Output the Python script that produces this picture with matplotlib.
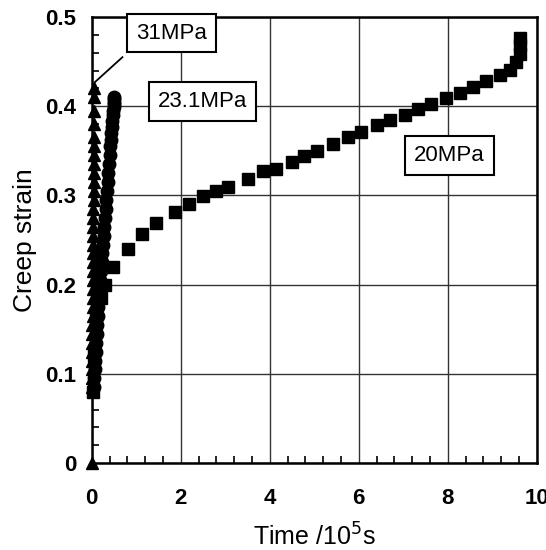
import matplotlib
matplotlib.use("Agg")
import matplotlib.pyplot as plt
from matplotlib.ticker import MultipleLocator

plt.rcParams['font.family'] = ['Liberation Sans', 'DejaVu Sans']

# 31 MPa (triangles)
t31 = [0.0, 0.0, 0.005, 0.005, 0.01, 0.01, 0.012, 0.015, 0.015, 0.018, 0.02, 0.02,
       0.022, 0.025, 0.025, 0.028, 0.03, 0.03, 0.032, 0.035, 0.035, 0.038, 0.04,
       0.04, 0.042, 0.045, 0.045, 0.048, 0.05, 0.05, 0.052, 0.055, 0.056, 0.058]
e31 = [0.0, 0.085, 0.095, 0.105, 0.115, 0.125, 0.135, 0.145, 0.155, 0.165, 0.175,
       0.185, 0.195, 0.205, 0.215, 0.225, 0.235, 0.245, 0.255, 0.265, 0.275, 0.285,
       0.295, 0.305, 0.315, 0.325, 0.335, 0.345, 0.355, 0.365, 0.38, 0.395, 0.41, 0.42]

# 23.1 MPa (circles)
t23 = [0.05, 0.06, 0.07, 0.08, 0.09, 0.1, 0.11, 0.12, 0.13, 0.15, 0.16, 0.18, 0.19,
       0.21, 0.22, 0.24, 0.25, 0.27, 0.28, 0.3, 0.31, 0.33, 0.34, 0.36, 0.37, 0.39,
       0.4, 0.42, 0.43, 0.44, 0.45, 0.46, 0.47, 0.48, 0.49, 0.5, 0.5, 0.51, 0.51]
e23 = [0.085, 0.095, 0.105, 0.115, 0.125, 0.135, 0.145, 0.155, 0.165, 0.175, 0.185,
       0.195, 0.205, 0.215, 0.225, 0.235, 0.245, 0.255, 0.265, 0.275, 0.285, 0.295,
       0.305, 0.315, 0.325, 0.335, 0.345, 0.355, 0.362, 0.37, 0.377, 0.384, 0.39,
       0.395, 0.399, 0.402, 0.405, 0.408, 0.41]

# 20 MPa (squares)
t20 = [0.02, 0.05, 0.1, 0.2, 0.3, 0.48, 0.82, 1.12, 1.45, 1.87, 2.19, 2.5, 2.8, 3.06,
       3.51, 3.85, 4.15, 4.49, 4.77, 5.07, 5.42, 5.76, 6.06, 6.4, 6.7, 7.03, 7.33,
       7.63, 7.97, 8.27, 8.57, 8.87, 9.17, 9.39, 9.54, 9.62, 9.63, 9.63]
e20 = [0.08, 0.12, 0.16, 0.185, 0.2, 0.22, 0.24, 0.257, 0.269, 0.282, 0.29, 0.299,
       0.305, 0.31, 0.318, 0.327, 0.33, 0.338, 0.344, 0.35, 0.358, 0.366, 0.371,
       0.379, 0.385, 0.39, 0.397, 0.402, 0.409, 0.415, 0.422, 0.428, 0.435, 0.441,
       0.45, 0.459, 0.469, 0.476]

xticks = [0, 2, 4, 6, 8, 10]
xtick_labels = ['0', '2', '4', '6', '8', '10']
yticks = [0, 0.1, 0.2, 0.3, 0.4, 0.5]
ytick_labels = ['0', '0.1', '0.2', '0.3', '0.4', '0.5']

fig = plt.figure(figsize=(5.46, 5.5), dpi=100)
ax = fig.add_axes([0.168, 0.158, 0.815, 0.811])

ax.plot(t20, e20, 's', color='black', ms=9, clip_on=False)
ax.plot(t23, e23, 'o', color='black', ms=9, clip_on=False)
ax.plot(t31, e31, '^', color='black', ms=8, clip_on=False)

ax.set_xlim(0, 10)
ax.set_ylim(0, 0.5)
ax.set_xticks(xticks, xtick_labels)
ax.set_yticks(yticks, ytick_labels)
ax.xaxis.set_minor_locator(MultipleLocator(0.4))
ax.yaxis.set_minor_locator(MultipleLocator(0.02))
ax.grid(True, which='major', color='#333333', linewidth=1)
ax.tick_params(which='both', direction='in', top=False, right=False,
               labelsize=16, color='black')
ax.tick_params(axis='x', which='major', length=0, pad=18)
ax.tick_params(axis='y', which='major', length=0, pad=11)
ax.tick_params(which='minor', length=5, width=1.2)
for lab in ax.get_xticklabels() + ax.get_yticklabels():
    lab.set_fontweight('bold')
for s in ax.spines.values():
    s.set_linewidth(1.8)

ax.set_xlabel('Time /10$^5$s', fontsize=18, labelpad=10)
ax.set_ylabel('Creep strain', fontsize=19, labelpad=6)

box = dict(boxstyle='square,pad=0.4', facecolor='white', edgecolor='black', linewidth=1.5)
ax.text(1.8, 0.482, '31MPa', fontsize=16, ha='center', va='center', bbox=box)
ax.text(2.49, 0.405, '23.1MPa', fontsize=16, ha='center', va='center', bbox=box)
ax.text(8.04, 0.345, '20MPa', fontsize=16, ha='center', va='center', bbox=box)
ax.plot([0.69, 0.07], [0.455, 0.427], color='black', linewidth=1.3)

fig.savefig('out.png', dpi=100)
